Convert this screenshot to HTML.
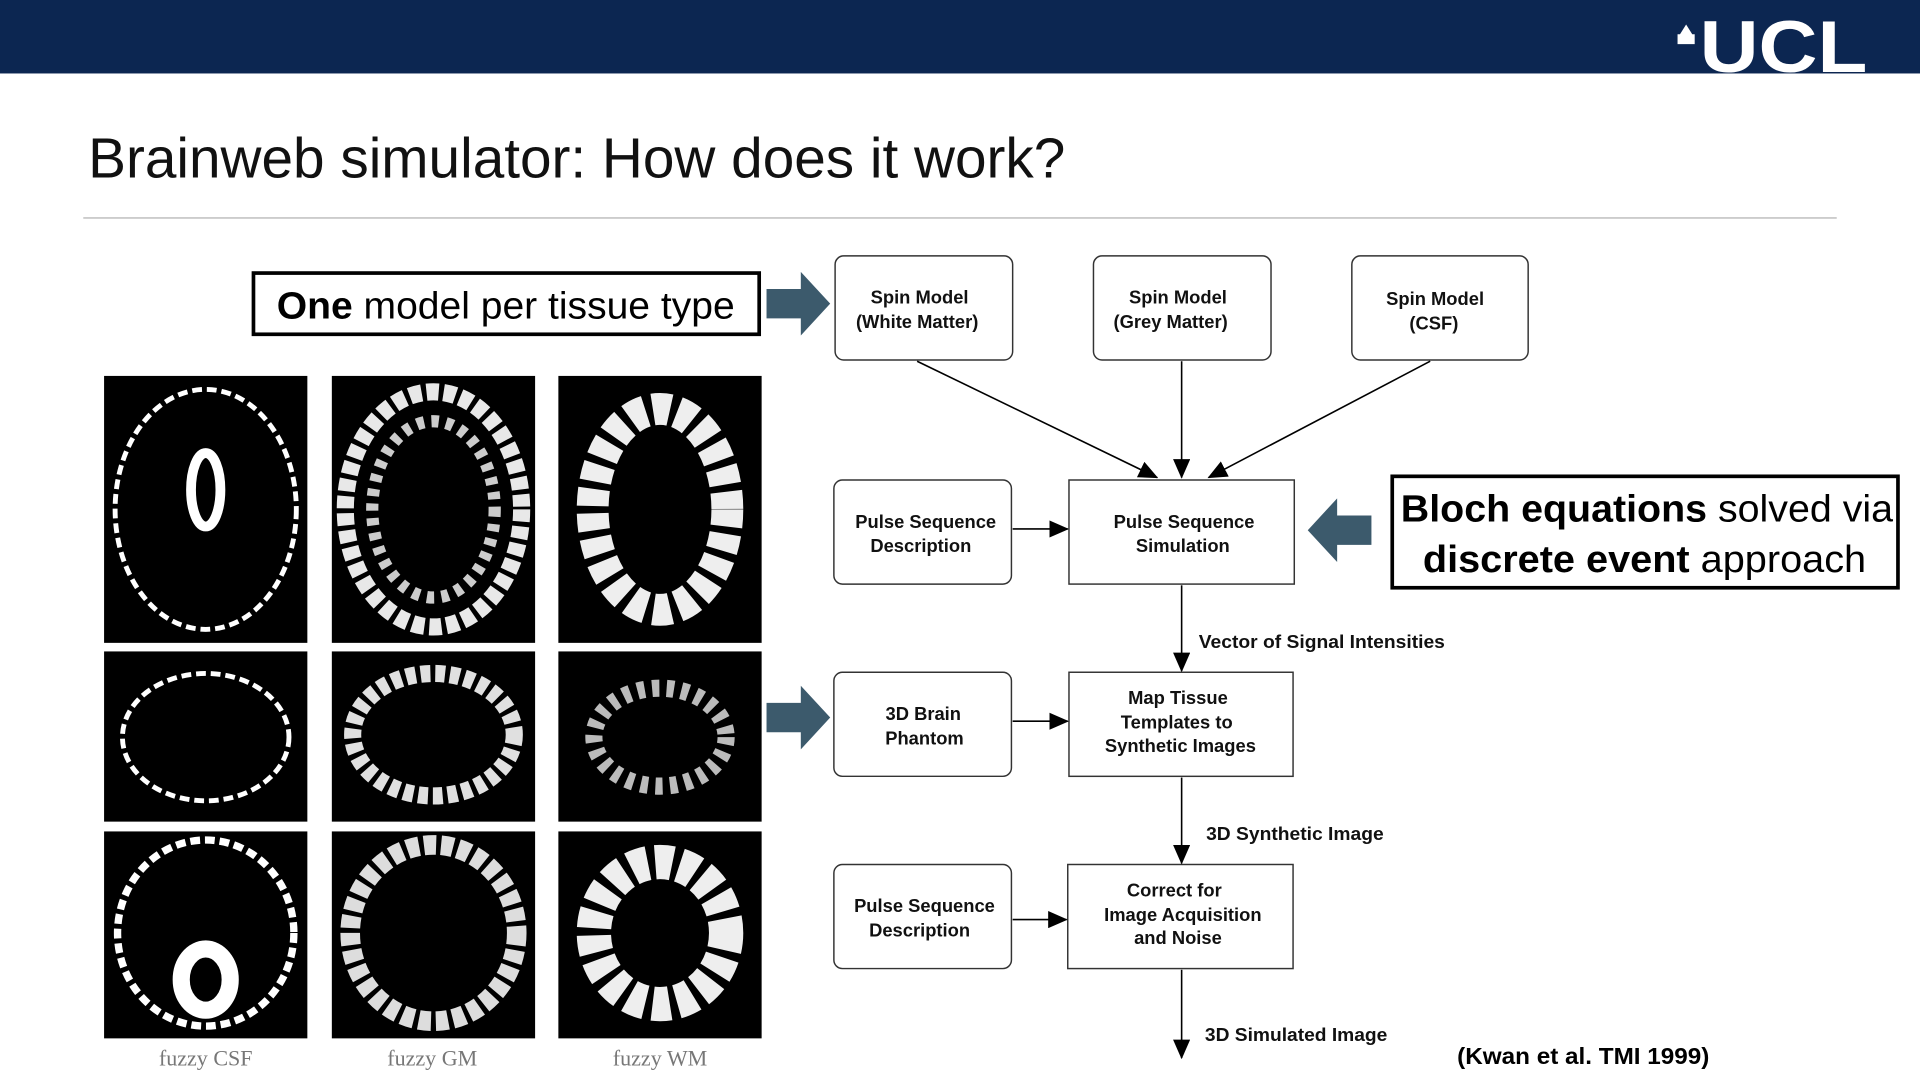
<!DOCTYPE html>
<html><head><meta charset="utf-8"><style>
html,body{margin:0;padding:0;background:#fff;width:1920px;height:1080px;overflow:hidden}
svg{display:block}
.s{font-family:"Liberation Sans",sans-serif}
.r{font-family:"Liberation Serif",serif}
</style></head><body>
<svg width="1920" height="1080" viewBox="0 0 1568 882" preserveAspectRatio="none" xmlns="http://www.w3.org/2000/svg">
<defs>
<marker id="ah2" markerWidth="16" markerHeight="14" refX="15" refY="7" orient="auto" markerUnits="userSpaceOnUse"><path d="M0,0 L16,7 L0,14 z" fill="#000"/></marker>
</defs>
<rect x="0" y="0" width="1568" height="60" fill="#0c2651"/>
<text class="s" x="1388" y="59" font-size="60" font-weight="bold" fill="#fff" textLength="137" lengthAdjust="spacingAndGlyphs">UCL</text>
<path d="M1370 36 h14 v-8 h-14 z M1372 28 l5 -8 l5 8z" fill="#fff"/>
<text class="s" x="72" y="145" font-size="46" fill="#111" textLength="798" lengthAdjust="spacingAndGlyphs">Brainweb simulator: How does it work?</text>
<line x1="68" y1="178" x2="1500" y2="178" stroke="#ccc" stroke-width="1.5"/>

<rect x="207" y="223" width="413" height="50" fill="#fff" stroke="#000" stroke-width="3"/>
<text class="s" x="413" y="260" font-size="31" text-anchor="middle" fill="#000" textLength="374" lengthAdjust="spacingAndGlyphs"><tspan font-weight="bold">One</tspan> model per tissue type</text>
<path d="M626 236 h28 v-14 l24 26 l-24 26 v-14 h-28z" fill="#3c5a6c"/>
<path d="M626 574 h28 v-14 l24 26 l-24 26 v-14 h-28z" fill="#3c5a6c"/>
<path d="M1120 421 h-28 v-14 l-24 26 l24 26 v-14 h28z" fill="#3c5a6c"/>
<rect x="1137" y="389" width="413" height="91" fill="#fff" stroke="#000" stroke-width="3"/>
<text class="s" x="1345" y="426" font-size="31" text-anchor="middle" textLength="402" lengthAdjust="spacingAndGlyphs"><tspan font-weight="bold">Bloch equations</tspan> solved via</text>
<text class="s" x="1343" y="467" font-size="31" text-anchor="middle" textLength="362" lengthAdjust="spacingAndGlyphs"><tspan font-weight="bold">discrete event</tspan> approach</text>

<g fill="#fff" stroke="#333" stroke-width="1.2">
<rect x="682" y="209" width="145" height="85" rx="7"/>
<rect x="893" y="209" width="145" height="85" rx="7"/>
<rect x="1104" y="209" width="144" height="85" rx="7"/>
<rect x="681" y="392" width="145" height="85" rx="7"/>
<rect x="873" y="392" width="184" height="85"/>
<rect x="681" y="549" width="145" height="85" rx="7"/>
<rect x="873" y="549" width="183" height="85"/>
<rect x="681" y="706" width="145" height="85" rx="7"/>
<rect x="872" y="706" width="184" height="85"/>
</g>
<g class="s" font-size="15" font-weight="bold" text-anchor="middle" fill="#111" style="font-family:'Liberation Sans',sans-serif">
<text x="751" y="248">Spin Model</text><text x="749" y="268">(White Matter)</text>
<text x="962" y="248">Spin Model</text><text x="956" y="268">(Grey Matter)</text>
<text x="1172" y="249">Spin Model</text><text x="1171" y="269">(CSF)</text>
<text x="756" y="431">Pulse Sequence</text><text x="752" y="451">Description</text>
<text x="967" y="431">Pulse Sequence</text><text x="966" y="451">Simulation</text>
<text x="754" y="588">3D Brain</text><text x="755" y="608">Phantom</text>
<text x="962" y="575">Map Tissue</text><text x="961" y="595">Templates to</text><text x="964" y="614">Synthetic Images</text>
<text x="755" y="745">Pulse Sequence</text><text x="751" y="765">Description</text>
<text x="959" y="732">Correct for</text><text x="966" y="752">Image Acquisition</text><text x="962" y="771">and Noise</text>
</g>
<g font-size="15" font-weight="bold" fill="#111" style="font-family:'Liberation Sans',sans-serif">
<text x="979" y="529" textLength="201" lengthAdjust="spacingAndGlyphs">Vector of Signal Intensities</text>
<text x="985" y="686" textLength="145" lengthAdjust="spacingAndGlyphs">3D Synthetic Image</text>
<text x="984" y="850" textLength="149" lengthAdjust="spacingAndGlyphs">3D Simulated Image</text>
</g>
<text class="s" x="1190" y="869" font-size="19" font-weight="bold" textLength="206" lengthAdjust="spacingAndGlyphs">(Kwan et al. TMI 1999)</text>
<g stroke="#000" stroke-width="1.3" fill="none">
<line x1="749" y1="295" x2="945" y2="390" marker-end="url(#ah2)"/>
<line x1="965" y1="295" x2="965" y2="390" marker-end="url(#ah2)"/>
<line x1="1168" y1="295" x2="987" y2="390" marker-end="url(#ah2)"/>
<line x1="827" y1="432" x2="872" y2="432" marker-end="url(#ah2)"/>
<line x1="965" y1="478" x2="965" y2="548" marker-end="url(#ah2)"/>
<line x1="827" y1="589" x2="872" y2="589" marker-end="url(#ah2)"/>
<line x1="965" y1="635" x2="965" y2="705" marker-end="url(#ah2)"/>
<line x1="827" y1="751" x2="871" y2="751" marker-end="url(#ah2)"/>
<line x1="965" y1="792" x2="965" y2="864" marker-end="url(#ah2)"/>
</g>

<g>
<rect x="85" y="307" width="166" height="218" fill="#000"/>
<rect x="271" y="307" width="166" height="218" fill="#000"/>
<rect x="456" y="307" width="166" height="218" fill="#000"/>
<rect x="85" y="532" width="166" height="139" fill="#000"/>
<rect x="271" y="532" width="166" height="139" fill="#000"/>
<rect x="456" y="532" width="166" height="139" fill="#000"/>
<rect x="85" y="679" width="166" height="169" fill="#000"/>
<rect x="271" y="679" width="166" height="169" fill="#000"/>
<rect x="456" y="679" width="166" height="169" fill="#000"/>
</g>
<g fill="none" stroke="#fff">
<ellipse cx="168" cy="416" rx="74" ry="98" stroke-width="4" stroke-dasharray="8 4"/>
<ellipse cx="168" cy="400" rx="12" ry="30" stroke-width="8"/>
<ellipse cx="354" cy="416" rx="72" ry="96" stroke-width="14" stroke-dasharray="10 4" stroke="#e8e8e8"/>
<ellipse cx="354" cy="416" rx="50" ry="72" stroke-width="10" stroke-dasharray="6 6" stroke="#ccc"/>
<ellipse cx="539" cy="416" rx="55" ry="82" stroke-width="26" stroke-dasharray="14 6" stroke="#eee"/>
<ellipse cx="168" cy="602" rx="68" ry="52" stroke-width="4" stroke-dasharray="8 4"/>
<ellipse cx="354" cy="600" rx="66" ry="50" stroke-width="14" stroke-dasharray="8 4" stroke="#e0e0e0"/>
<ellipse cx="539" cy="602" rx="54" ry="40" stroke-width="14" stroke-dasharray="6 6" stroke="#bbb"/>
<ellipse cx="168" cy="762" rx="72" ry="76" stroke-width="6" stroke-dasharray="8 4"/>
<ellipse cx="168" cy="800" rx="20" ry="25" stroke-width="14"/>
<ellipse cx="354" cy="762" rx="68" ry="72" stroke-width="16" stroke-dasharray="10 4" stroke="#ddd"/>
<ellipse cx="539" cy="762" rx="54" ry="58" stroke-width="28" stroke-dasharray="14 6" stroke="#eee"/>
</g>
<g font-size="18" fill="#777" text-anchor="middle" style="font-family:'Liberation Serif',serif">
<text x="168" y="870">fuzzy CSF</text>
<text x="353" y="870">fuzzy GM</text>
<text x="539" y="870">fuzzy WM</text>
</g>
</svg>
</body></html>
